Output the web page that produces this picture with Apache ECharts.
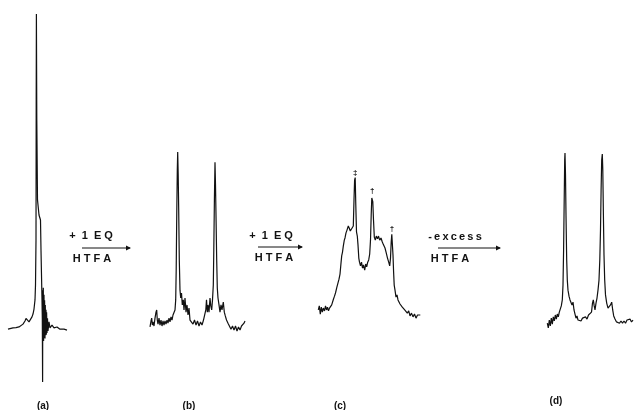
<!DOCTYPE html>
<html>
<head>
<meta charset="utf-8">
<script src="https://cdn.jsdelivr.net/npm/echarts@6/dist/echarts.min.js"></script>
<style>html,body{margin:0;padding:0;background:#fff}#c{width:634px;height:410px}</style>
</head>
<body>
<div id="c"></div>
<script>
// Frequency offsets (Hz, arbitrary origin) and relative intensities (tallest = 100)
const shiftA = [0,2,5,8,11,13,15,17,18,19,20,21,22,23,24,25,26,27,27.5,28,28.2,28.4,28.8,29.5,31,32.5,33,33.5,34,34.3,34.6,34.8,35,35.3,35.6,36,36.3,36.6,37,37.3,37.6,38,38.3,38.6,39,39.5,40,41,42,44,46,49,52,56,59];
const intensA = [-0.2,0,0.2,0.3,0.5,0.8,1.4,2.4,3.2,3.3,2.7,2.1,2.2,2.7,3.7,4.6,6.2,9.1,13.8,28.1,72.7,100,66.3,40.9,36.1,34.5,24.9,17.0,9.1,3.3,-17,12.2,-3.7,13.0,-4.0,10.7,-3.0,9.0,-3.2,7.5,-2.1,6.0,-2.0,5.2,-1.4,3.3,-0.8,2.1,0.2,1.1,0.2,0.5,-0.2,-0.2,-0.5];

const shiftB = [0,1,1.7,2.3,3,4,5,6,6.7,7.3,8,9,10,11,12,13,14,15,16,17,18,19,20,21,22,23,24,25,25.7,26.2,26.8,27.3,27.7,28.2,28.7,29.3,30,30.7,31.5,32.3,33.3,34,35,36,37,38,39,40,41.5,43,44.5,46,47.5,49,50.5,52,53.5,55,55.8,56.5,57.3,58,59,60,60.8,61.7,62.5,63.3,63.8,64.4,65,65.5,66,66.7,67.3,68,69,70,71,72,73.3,74.3,75.3,76.5,78,79.5,81,82.5,84,85.5,87,88.5,90,91.5,93,94,95];
const intensB = [0.5,2.4,3.3,1.1,2.1,0.8,3.3,5.2,5.9,2.7,1.4,3.3,1.1,2.7,0.8,2.4,1.1,2.4,1.4,2.7,1.7,3.3,2.1,3.7,2.7,4.3,3.7,5.9,9.1,18.6,37.7,50.4,56.1,48.8,37.7,21.8,12.2,9.7,11.3,7.5,9.1,5.9,9.7,5.2,7.5,4.3,6.5,2.7,3.3,1.4,2.7,1.1,2.4,0.8,2.1,1.1,2.7,2.1,5.9,9.1,5.2,7.5,5.2,9.7,7.2,5.9,9.1,13.8,25.0,40.9,52.9,45.6,36.1,21.8,12.9,9.7,7.5,5.2,7.5,5.9,8.4,5.2,4.0,2.7,1.7,1.1,-0.2,0.8,-0.5,0.8,-0.8,0.5,-0.5,0.8,0.5,1.7,2.4];

const shiftC = [0.3,1.3,2.3,3.3,4.3,5.3,6.5,7.5,8.5,9.5,10.5,11.5,12.5,13.7,14.7,15.5,16.5,17.5,18.7,20,21,22,23,23.7,24.5,25.3,26.3,27,28,29,30.3,31.3,32.3,33.3,34.3,35.3,36,36.6,37.2,37.8,38.5,39.3,40,40.8,41.5,42.5,43.5,44.5,45.5,46.7,47.7,48.7,49.7,50.7,51.7,52.5,53.2,53.8,54.3,54.8,55.5,56.3,57.3,58.3,59.5,60.5,61.7,63,64.3,65.5,67,68.3,69.5,70.7,71.7,72.5,73.2,73.8,74.4,75,75.6,76.2,77,78,79,80,81,82,83,84.3,85.5,86.7,88,89.3,90.7,92,93.5,95,96.5,98,99.5,101,102.3];
const intensC = [5.9,7.2,4.6,6.8,5.2,6.5,5.6,7.2,5.9,6.8,5.6,6.5,6.2,7.5,8.1,9.4,10.3,11.3,12.9,14.5,15.7,17.3,20.8,23.1,24.3,26.2,28.1,28.8,30.4,31.3,32.6,31.9,31.0,31.6,30.7,32.6,40.9,47.2,48.0,39.3,30.7,29.4,26.6,22.4,21.1,19.9,21.1,19.2,20.2,18.6,20.5,19.6,21.1,21.8,23.7,28.1,36.1,41.5,42.1,40.3,34.5,29.1,28.1,29.4,28.5,29.4,28.1,28.8,27.5,26.6,25.6,24.0,22.4,21.1,19.9,22.4,27.5,30.0,29.6,23.4,18.0,13.8,12.2,10.0,10.7,9.1,9.4,7.8,8.4,6.8,7.2,5.9,6.2,4.9,5.6,4.0,4.9,3.7,4.6,3.3,4.3,3.7,4.3];
// Peak assignment marks on spectrum (c): [shift, intensity, symbol]
const marksC = [[37.2, 48.0, '‡'], [54.3, 42.1, '†'], [74.0, 30.0, '†']];

const shiftD = [0.3,1.3,2.3,3.3,4.3,5.3,6.3,7.3,8.3,9.3,10.3,11.3,12.3,13.3,14.3,15.3,16,16.6,17.2,17.7,18,18.5,19,19.7,20.3,21,22,23,24,25,26,27,28,29,30,31,32.5,34,35.5,37,38.5,40,41.5,43,44.5,45.5,46.3,47.2,48,49,50,51,52,52.8,53.5,54.1,54.7,55.3,55.8,56.4,57,57.7,58.5,59.7,61,62.3,63.5,64.7,65.7,66.7,68,69.5,71,72.5,74,75.5,77,78.5,80,81.5,83,84.5,86];
const intensD = [1.7,0.2,2.7,0.8,3.3,1.4,3.7,2.4,4.3,3.0,4.6,3.7,5.2,5.6,7.2,9.1,13.8,25.0,40.9,53.6,55.8,48.8,36.1,21.8,15.4,12.2,10.3,9.1,9.7,7.5,8.4,5.9,4.6,3.3,4.0,2.7,3.3,2.4,3.3,2.7,3.7,3.0,4.3,4.0,5.2,8.1,9.1,7.2,5.9,8.1,9.7,12.2,15.4,21.8,31.3,44.0,53.6,55.5,50.4,36.1,23.4,15.4,10.7,8.1,6.5,5.9,7.5,8.4,5.9,4.0,3.0,2.1,2.7,1.7,2.4,1.7,2.4,1.7,2.7,2.1,3.0,2.1,2.7];

const panelLabels = ['(a)', '(b)', '(c)', '(d)'];
const stepTop = ['+  1  E Q', '+  1  E Q', '-\u2009e\u2009x\u2009c\u2009e\u2009s\u2009s'];
const stepBottom = ['H T F A', 'H T F A', 'H T F A'];

const zip = (xs, ys) => xs.map((x, i) => [x, ys[i]]);

const panels = [
  {left: 8, width: 60, data: zip(shiftA, intensA)},
  {left: 150, width: 96, data: zip(shiftB, intensB)},
  {left: 318, width: 103, data: zip(shiftC, intensC)},
  {left: 547, width: 87, data: zip(shiftD, intensD)}
];

const ink = '#111111';
const grids = [], xAxes = [], yAxes = [], series = [];
panels.forEach((p, i) => {
  grids.push({left: p.left, width: p.width, top: 14, height: 368, containLabel: false});
  xAxes.push({type: 'value', gridIndex: i, min: 0, max: p.width, show: false});
  yAxes.push({type: 'value', gridIndex: i, min: -17, max: 100, show: false});
  const s = {
    type: 'line', xAxisIndex: i, yAxisIndex: i, data: p.data,
    showSymbol: false, symbol: 'none', clip: false, animation: false,
    lineStyle: {color: ink, width: 1.2}
  };
  if (i === 2) {
    s.markPoint = {
      symbol: 'circle', symbolSize: 0, animation: false,
      label: {show: true, position: 'top', distance: 1, color: ink, fontSize: 8, fontWeight: 'bold',
              fontFamily: 'Liberation Sans', formatter: (d) => d.data.mark},
      data: marksC.map(m => ({coord: [m[0], m[1]], mark: m[2]}))
    };
  }
  series.push(s);
});

// annotation graphics
const font = 'bold 11px "Liberation Sans", Arial, sans-serif';
const arrows = [
  {tx: 91, ty: 236, x1: 82, x2: 130, y: 248, bx: 92, by: 259},
  {tx: 271, ty: 236, x1: 258, x2: 302, y: 247, bx: 274, by: 258},
  {tx: 455, ty: 236.5, x1: 438, x2: 500, y: 248, bx: 450, by: 259}
];
const graphic = [];
arrows.forEach((a, i) => {
  graphic.push({type: 'text', x: a.tx, y: a.ty, style: {text: stepTop[i], font: font, fill: ink, align: 'center', verticalAlign: 'middle'}});
  graphic.push({type: 'line', shape: {x1: a.x1, y1: a.y, x2: a.x2, y2: a.y}, style: {stroke: ink, lineWidth: 1}});
  graphic.push({type: 'polygon', shape: {points: [[a.x2 + 1, a.y], [a.x2 - 4, a.y - 2.5], [a.x2 - 4, a.y + 2.5]]}, style: {fill: ink}});
  graphic.push({type: 'text', x: a.bx, y: a.by, style: {text: stepBottom[i], font: font, fill: ink, align: 'center', verticalAlign: 'middle'}});
});
const labelPos = [[43, 406], [189, 406], [340, 406], [556, 401]];
panelLabels.forEach((t, i) => {
  graphic.push({type: 'text', x: labelPos[i][0], y: labelPos[i][1], style: {text: t, font: 'bold 10px "Liberation Sans", Arial, sans-serif', fill: ink, align: 'center', verticalAlign: 'middle'}});
});

const chart = echarts.init(document.getElementById('c'), null, {renderer: 'canvas'});
chart.setOption({
  animation: false,
  backgroundColor: '#ffffff',
  grid: grids, xAxis: xAxes, yAxis: yAxes, series: series,
  graphic: graphic
});
</script>
</body>
</html>
